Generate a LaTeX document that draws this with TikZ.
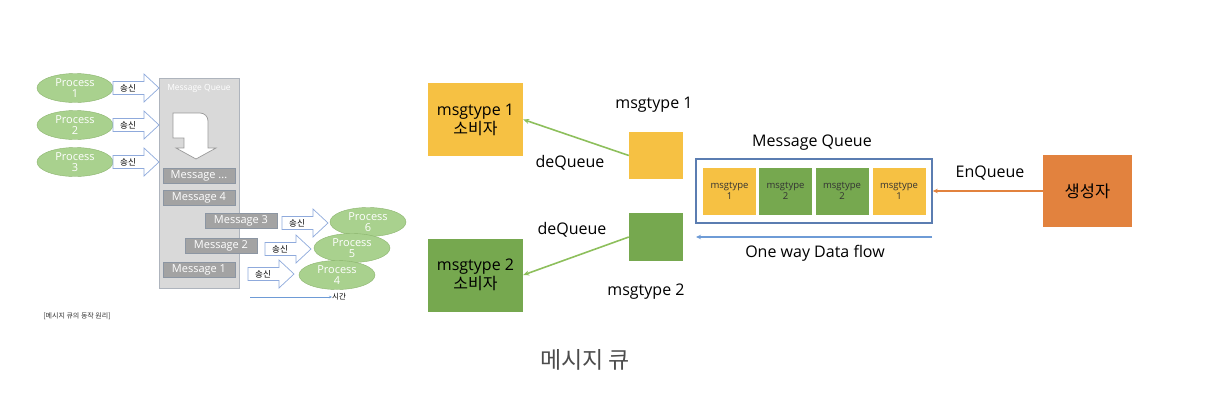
\documentclass[tikz,border=0pt]{standalone}
\usepackage{fontspec}
\setmainfont{Open Sans}
\newfontfamily\kr{Noto Sans CJK KR}
\usetikzlibrary{positioning, arrows.meta, shapes.geometric}

\definecolor{qyellow}{HTML}{F6C143}
\definecolor{qgreen}{HTML}{76A84F}
\definecolor{qorange}{HTML}{E2823E}
\definecolor{qframe}{HTML}{5B7DB1}
\definecolor{qflow}{HTML}{6E9BD6}
\definecolor{qarrow}{HTML}{8DBF5C}
\definecolor{pfill}{HTML}{A9D18E}
\definecolor{pline}{HTML}{8AB36C}
\definecolor{panel}{HTML}{D9D9D9}
\definecolor{panelline}{HTML}{AEB4BD}
\definecolor{msgfill}{HTML}{A3A3A3}
\definecolor{msgline}{HTML}{8C96A3}
\definecolor{sendline}{HTML}{8FAADC}

\tikzset{
  proc/.style={ellipse, draw=pline, fill=pfill, text=white, minimum width=76pt, minimum height=29pt, inner sep=0pt, align=center, font=\fontsize{11}{11.5}\selectfont},
  msgbox/.style={draw=msgline, fill=msgfill, text=white, minimum width=72pt, minimum height=15pt, inner sep=0pt, font=\fontsize{11}{12}\selectfont},
  sendarr/.style={draw=sendline, fill=white, line width=0.7pt},
  sendtxt/.style={inner sep=0pt, font=\kr\fontsize{8.5}{10}\selectfont},
  consumer/.style={minimum width=95pt, minimum height=73pt, inner sep=0pt, align=center, font=\fontsize{16}{19}\selectfont},
  label/.style={inner sep=0pt, font=\fontsize{16}{18}\selectfont},
  qbox/.style={minimum width=53pt, minimum height=47pt, inner sep=0pt, align=center, text=black!80, font=\fontsize{9.5}{10.5}\selectfont},
  deq/.style={-{Stealth[length=6pt, width=5pt]}, qarrow, line width=1.6pt}
}

\begin{document}
\begin{tikzpicture}[x=1pt, y=-1pt]
  \useasboundingbox (0,0) rectangle (1212,402);

  % left: how the queue works
  \node[proc] (p1) at (75,88) {Process\\1};
  \node[proc] (p2) at (75,125) {Process\\2};
  \node[proc] (p3) at (75,162) {Process\\3};

  \node[draw=panelline, fill=panel, minimum width=80pt, minimum height=210pt, inner sep=0pt] (panel) at (199,183) {};
  \node[text=white, inner sep=0pt, font=\fontsize{8.5}{9}\selectfont] (ptitle) at (199,88) {Message Queue};
  \draw[draw=black!40, fill=white, line width=0.7pt] (173,113) -- (200,113) to[out=0, in=90] (208,121) -- (208,148) -- (216,148) -- (196,159) -- (176,148) -- (184,148) -- (184,138) -- (173,138) -- cycle;

  \node[msgbox] (mdots) at (199,176) {Message ...};
  \node[msgbox] (m4) at (199,198) {Message 4};
  \node[msgbox] (m3) at (241,221) {Message 3};
  \node[msgbox] (m2) at (221,246) {Message 2};
  \node[msgbox] (m1) at (199,270) {Message 1};

  \foreach \x/\y [count=\i] in {113/88, 113/125, 113/162, 282/223, 265/249, 248/274} {
    \draw[sendarr] (\x,\y-6.5) -- (\x+31,\y-6.5) -- (\x+31,\y-14) -- (\x+46,\y) -- (\x+31,\y+14) -- (\x+31,\y+6.5) -- (\x,\y+6.5) -- cycle;
    \node[sendtxt] (s\i) at (\x+15,\y) {송신};
  }

  \node[proc] (p6) at (368,222) {Process\\6};
  \node[proc] (p5) at (352,248) {Process\\5};
  \node[proc] (p4) at (337,275) {Process\\4};

  \coordinate (t0) at (250,297);
  \node[inner sep=0pt, anchor=west, font=\kr\fontsize{7.5}{9}\selectfont] (time) at (332,297) {시간};
  \draw[-{Stealth[length=3pt, width=2.5pt]}, qflow, line width=0.6pt] (t0) -- (time.west);

  \node[inner sep=0pt, text=black!80, font=\kr\fontsize{7}{8}\selectfont] (cap) at (77,316) {[메시지 큐의 동작 원리]};

  % right: consumers, queue, producer
  \node[consumer, fill=qyellow] (c1) at (475.5,119.5) {msgtype 1\\{\kr 소비자}};
  \node[consumer, fill=qgreen] (c2) at (475.5,275) {msgtype 2\\{\kr 소비자}};

  \node[fill=qyellow, minimum width=54pt, minimum height=47pt, inner sep=0pt] (t1) at (656,155.5) {};
  \node[fill=qgreen, minimum width=54pt, minimum height=48pt, inner sep=0pt] (t2) at (656,237) {};
  \node[label] (l1) at (654,105) {msgtype 1};
  \node[label] (l2) at (646,292) {msgtype 2};

  \draw[deq] (t1.west) -- (c1.east);
  \draw[deq] (t2.west) -- (c2.east);
  \node[label] (d1) at (570,163) {deQueue};
  \node[label] (d2) at (572,230) {deQueue};

  \node[draw=qframe, line width=1.6pt, minimum width=236pt, minimum height=64pt, inner sep=0pt] (mq) at (814,191) {};
  \node[label] (mqt) at (812,143) {Message Queue};
  \foreach \x/\c/\n [count=\i] in {729.5/qyellow/1, 785.5/qgreen/2, 842/qgreen/2, 899/qyellow/1} {
    \node[qbox, fill=\c] (q\i) at (\x,191) {msgtype\\\n};
  }

  \coordinate (f1) at (932,237);
  \coordinate (f2) at (696,237);
  \draw[-{Stealth[length=5pt, width=4.5pt]}, qflow, line width=1.2pt] (f1) -- (f2);
  \node[label] (flow) at (815,253) {One way Data flow};

  \node[fill=qorange, minimum width=89pt, minimum height=72pt, inner sep=0pt, font=\kr\fontsize{16.5}{18}\selectfont] (prod) at (1087.5,191) {생성자};
  \draw[-{Stealth[length=5pt, width=4.5pt]}, qorange, line width=1.2pt] (prod.west) -- (mq.east);
  \node[label] (enq) at (990,173) {EnQueue};

  \node[inner sep=0pt, text=black!70, font=\kr\fontsize{23}{26}\selectfont] (title) at (585,360) {메시지 큐};
\end{tikzpicture}
\end{document}
